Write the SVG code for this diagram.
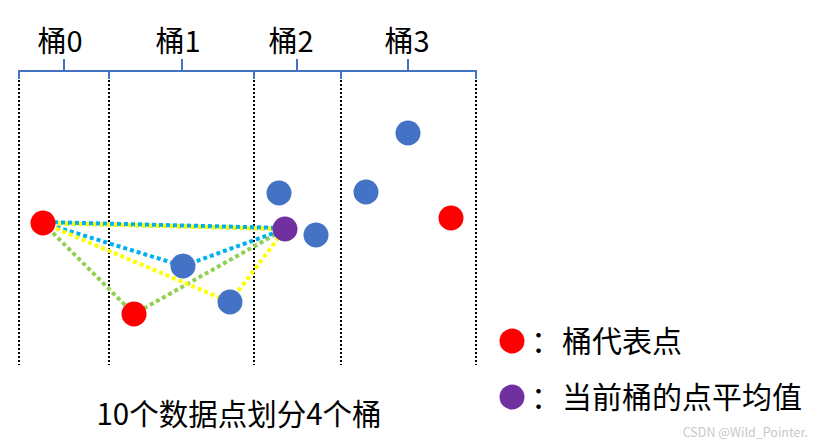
<svg xmlns="http://www.w3.org/2000/svg" width="819" height="448" viewBox="0 0 819 448">
<style>
.t{font-family:"Noto Sans CJK SC","Microsoft YaHei",sans-serif;fill:#000}
.brace{stroke:#4472C4;stroke-width:2;fill:none}
.vl{stroke:#000;stroke-width:2;stroke-dasharray:2 2;fill:none}
.blue{fill:#4472C4}
.red{fill:#FF0000}
.purple{fill:#7030A0}
.c{stroke-width:4;stroke-dasharray:4 3;fill:none}
.y{stroke:#FFFF00}
.g{stroke:#92D050}
.b{stroke:#00B0F0}
</style>
<rect width="819" height="448" fill="#fff"/>
<g id="labels">
<text class="t" x="60" y="52" font-size="29" text-anchor="middle">桶0</text>
<text class="t" x="178" y="52" font-size="29" text-anchor="middle">桶1</text>
<text class="t" x="291" y="52" font-size="29" text-anchor="middle">桶2</text>
<text class="t" x="407" y="52" font-size="29" text-anchor="middle">桶3</text>
</g>
<g id="braces" class="brace">
<path d="M19 79V71H476V79M109 79V71M254 79V71M341 79V71"/>
<path d="M64 71V59M182 71V59M297 71V59M408 71V59"/>
</g>
<g id="dividers" class="vl">
<path d="M19 80V365M109 80V365M254 80V365M341 80V365M476 80V365"/>
</g>
<g id="connectors">
<polyline class="c g" points="43,223 134,314 285,229 43,223"/>
<polyline class="c b" points="43,223 183,266 285,229"/>
<polyline class="c y" points="43,223 230,302 285,229 43,223"/>
<line class="c b" x1="43" y1="222" x2="285" y2="228" stroke-dashoffset="3"/>
</g>
<g id="points">
<circle id="p1" class="red" cx="43" cy="223" r="12.5"/>
<circle id="p2" class="blue" cx="183" cy="266" r="12.5"/>
<circle id="p3" class="blue" cx="230" cy="302" r="12.5"/>
<circle id="p4" class="red" cx="134" cy="314" r="12.5"/>
<circle id="p5" class="blue" cx="279" cy="193" r="12.5"/>
<circle id="p6" class="purple" cx="285" cy="229" r="12.5"/>
<circle id="p7" class="blue" cx="316" cy="235" r="12.5"/>
<circle id="p8" class="blue" cx="366" cy="192" r="12.5"/>
<circle id="p9" class="blue" cx="408" cy="133" r="12.5"/>
<circle id="p10" class="red" cx="451" cy="218" r="12.5"/>
</g>
<g id="legend">
<circle class="red" cx="512" cy="341" r="12.5"/>
<text class="t" x="531" y="352" font-size="30">：</text>
<text class="t" x="562" y="352" font-size="30">桶代表点</text>
<circle class="purple" cx="512" cy="397" r="12.5"/>
<text class="t" x="531" y="408" font-size="30">：</text>
<text class="t" x="562" y="408" font-size="30">当前桶的点平均值</text>
</g>
<g id="caption">
<text class="t" x="239" y="425" font-size="29.5" text-anchor="middle">10个数据点划分4个桶</text>
</g>
<text x="808" y="437" font-family="'Noto Sans CJK SC',sans-serif" font-size="12.5" fill="#c8c8c8" text-anchor="end">CSDN @Wild_Pointer.</text>
</svg>
